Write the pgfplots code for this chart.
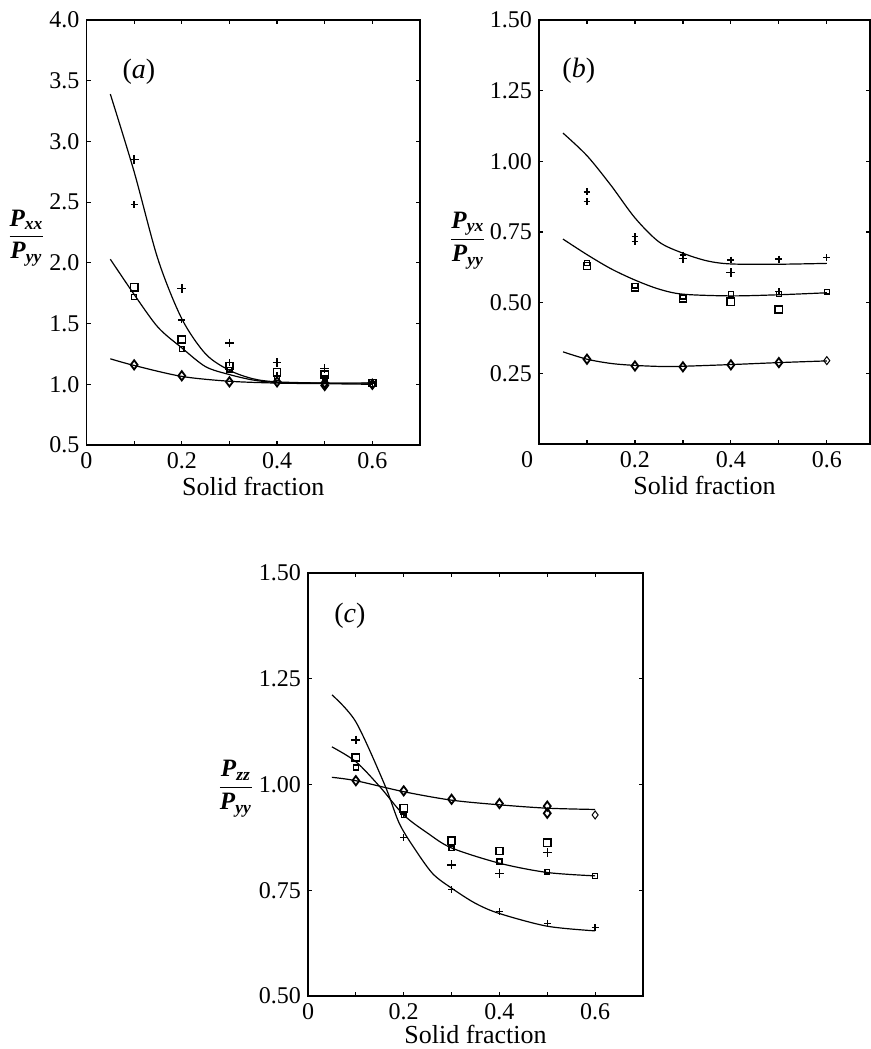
\documentclass[border=0pt]{standalone}
\usepackage{amsmath}
\usepackage{pgfplots}
\pgfplotsset{compat=1.18}
\usepackage{fontspec}
\setmainfont{Liberation Serif}

\newcommand{\pr}[2]{$\displaystyle\frac{\textbf{\textit{P}}_{\textbf{\textit{#1}}}}{\textbf{\textit{P}}_{\textbf{\textit{#2}}}}$}

\tikzset{plab/.style={font=\fontsize{14}{15}\selectfont}}

\pgfplotsset{
  panel/.style={
    scale only axis,
    xmin=0, xmax=0.7,
    xtick={0,0.2,0.4,0.6},
    xticklabels={0,0.2,0.4,0.6},
    minor xtick={0.1,0.3,0.5},
    tick align=inside,
    major tick length=2.2pt, minor tick length=2.2pt,
    axis line style={line width=0.8pt},
    every tick/.style={line width=0.6pt, black},
    tick label style={font=\fontsize{12}{13}\selectfont},
    /pgf/number format/assume math mode=true,
    xlabel={Solid fraction},
    xlabel style={font=\fontsize{13}{14}\selectfont, yshift=2.5pt},
    ylabel style={rotate=-90, anchor=center, font=\fontsize{12.5}{13}\selectfont},
  },
  fit/.style={black, line width=0.6pt, smooth, tension=0.5, no marks},
  pbig/.style={only marks, mark=+, mark size=2.2pt, mark options={line width=0.75pt}},
  psml/.style={only marks, mark=+, mark size=1.7pt, mark options={line width=0.65pt}},
  sbig/.style={only marks, mark=square, mark size=1.8pt, mark options={line width=0.8pt}},
  ssml/.style={only marks, mark=square, mark size=1.2pt, mark options={line width=0.7pt}},
  dbig/.style={only marks, mark=diamond, mark size=2.3pt, mark options={line width=0.9pt}},
  dsml/.style={only marks, mark=diamond, mark size=2pt, mark options={line width=0.5pt}},
}

\begin{document}
\begin{tikzpicture}
\useasboundingbox (0pt,0pt) rectangle (435.5pt,-524.5pt);

% (a)
\begin{axis}[panel,
  at={(43.25pt,-222.5pt)}, anchor=south west,
  width=166.75pt, height=212.5pt,
  ymin=0.5, ymax=4.0,
  ytick={0.5,1,1.5,2,2.5,3,3.5,4},
  yticklabels={0.5,1.0,1.5,2.0,2.5,3.0,3.5,4.0},
  ylabel={\pr{xx}{yy}},
  ylabel style={at={(axis description cs:-0.18,0.487)}},
]
\addplot[fit] coordinates {(0.05,3.39) (0.1,2.75) (0.15,2.03) (0.2,1.54) (0.25,1.25) (0.3,1.115) (0.35,1.045) (0.4,1.02) (0.5,1.01) (0.6,1.01)};
\addplot[fit] coordinates {(0.05,2.03) (0.1,1.74) (0.15,1.47) (0.2,1.30) (0.25,1.145) (0.3,1.08) (0.35,1.035) (0.4,1.015) (0.5,1.01) (0.6,1.01)};
\addplot[fit] coordinates {(0.05,1.21) (0.1,1.155) (0.2,1.065) (0.3,1.025) (0.4,1.01) (0.5,1.005) (0.6,1.0)};
\addplot[pbig] coordinates {(0.1,2.85) (0.2,1.79) (0.3,1.34) (0.4,1.18) (0.5,1.13)};
\addplot[psml] coordinates {(0.1,2.48) (0.2,1.53) (0.3,1.18) (0.4,1.07) (0.6,1.01)};
\addplot[sbig] coordinates {(0.1,1.80) (0.2,1.37) (0.3,1.15) (0.4,1.10) (0.5,1.08) (0.6,1.01)};
\addplot[ssml] coordinates {(0.1,1.72) (0.2,1.29) (0.3,1.12) (0.4,1.05) (0.5,1.05) (0.6,1.0)};
\addplot[dbig] coordinates {(0.1,1.16) (0.2,1.07) (0.3,1.02) (0.4,1.02) (0.5,0.99) (0.5,1.01) (0.6,1.0)};
\node[plab] at (axis cs:0.11,3.57) {(\textit{a})};
\end{axis}

% (b)
\begin{axis}[panel,
  at={(269.5pt,-222pt)}, anchor=south west,
  width=165.5pt, height=212pt,
  xmax=0.69,
  xticklabels={\llap{0\hspace{3pt}},0.2,0.4,0.6},
  ymin=0, ymax=1.5,
  ytick={0.25,0.5,0.75,1,1.25,1.5},
  yticklabels={0.25,0.50,0.75,1.00,1.25,1.50},
  ylabel={\pr{yx}{yy}},
  ylabel style={at={(axis description cs:-0.215,0.48)}},
]
\addplot[fit] coordinates {(0.05,1.10) (0.1,1.02) (0.15,0.915) (0.2,0.80) (0.25,0.715) (0.3,0.675) (0.35,0.648) (0.4,0.637) (0.5,0.636) (0.6,0.639)};
\addplot[fit] coordinates {(0.05,0.725) (0.1,0.67) (0.15,0.62) (0.2,0.58) (0.25,0.548) (0.3,0.53) (0.4,0.524) (0.5,0.528) (0.6,0.535)};
\addplot[fit] coordinates {(0.05,0.326) (0.1,0.30) (0.15,0.285) (0.2,0.278) (0.26,0.274) (0.3,0.275) (0.4,0.281) (0.5,0.288) (0.6,0.294)};
\addplot[psml] coordinates {(0.1,0.892) (0.1,0.857) (0.2,0.733) (0.2,0.716) (0.3,0.669) (0.4,0.651) (0.5,0.654) (0.5,0.539) (0.6,0.66)};
\addplot[pbig] coordinates {(0.3,0.657) (0.4,0.607)};
\addplot[sbig] coordinates {(0.1,0.63) (0.2,0.555) (0.3,0.515) (0.4,0.503) (0.5,0.476)};
\addplot[ssml] coordinates {(0.1,0.64) (0.2,0.56) (0.3,0.521) (0.4,0.53) (0.5,0.53) (0.6,0.539)};
\addplot[dbig] coordinates {(0.1,0.30) (0.2,0.276) (0.3,0.273) (0.4,0.28) (0.5,0.288)};
\addplot[dsml] coordinates {(0.6,0.295)};
\node[plab] at (axis cs:0.083,1.32) {(\textit{b})};
\end{axis}

% (c)
\begin{axis}[panel,
  at={(154pt,-498pt)}, anchor=south west,
  width=167.5pt, height=211.5pt,
  ymin=0.5, ymax=1.5,
  ytick={0.5,0.75,1,1.25,1.5},
  yticklabels={0.50,0.75,1.00,1.25,1.50},
  ylabel={\pr{zz}{yy}},
  ylabel style={at={(axis description cs:-0.215,0.49)}},
  xlabel style={yshift=1.5pt},
]
\addplot[fit] coordinates {(0.05,1.212) (0.1,1.148) (0.16,1.0) (0.19,0.91) (0.22,0.853) (0.26,0.79) (0.3,0.755) (0.35,0.719) (0.4,0.695) (0.5,0.665) (0.6,0.654)};
\addplot[fit] coordinates {(0.05,1.089) (0.1,1.054) (0.15,0.995) (0.2,0.928) (0.25,0.885) (0.3,0.85) (0.4,0.814) (0.5,0.792) (0.6,0.784)};
\addplot[fit] coordinates {(0.05,1.017) (0.1,1.009) (0.2,0.983) (0.3,0.963) (0.4,0.952) (0.5,0.944) (0.6,0.941)};
\addplot[pbig] coordinates {(0.1,1.105) (0.3,0.81) (0.4,0.79) (0.5,0.839)};
\addplot[psml] coordinates {(0.2,0.875) (0.2,0.93) (0.3,0.752) (0.4,0.699) (0.5,0.672) (0.6,0.662)};
\addplot[sbig] coordinates {(0.1,1.064) (0.2,0.944) (0.3,0.867) (0.4,0.843) (0.5,0.862)};
\addplot[ssml] coordinates {(0.1,1.04) (0.2,0.928) (0.3,0.849) (0.4,0.818) (0.5,0.794) (0.6,0.784)};
\addplot[dbig] coordinates {(0.1,1.009) (0.2,0.985) (0.3,0.965) (0.4,0.955) (0.5,0.949) (0.5,0.932)};
\addplot[dsml] coordinates {(0.6,0.928)};
\node[plab] at (axis cs:0.0875,1.398) {(\textit{c})};
\end{axis}
\end{tikzpicture}
\end{document}
